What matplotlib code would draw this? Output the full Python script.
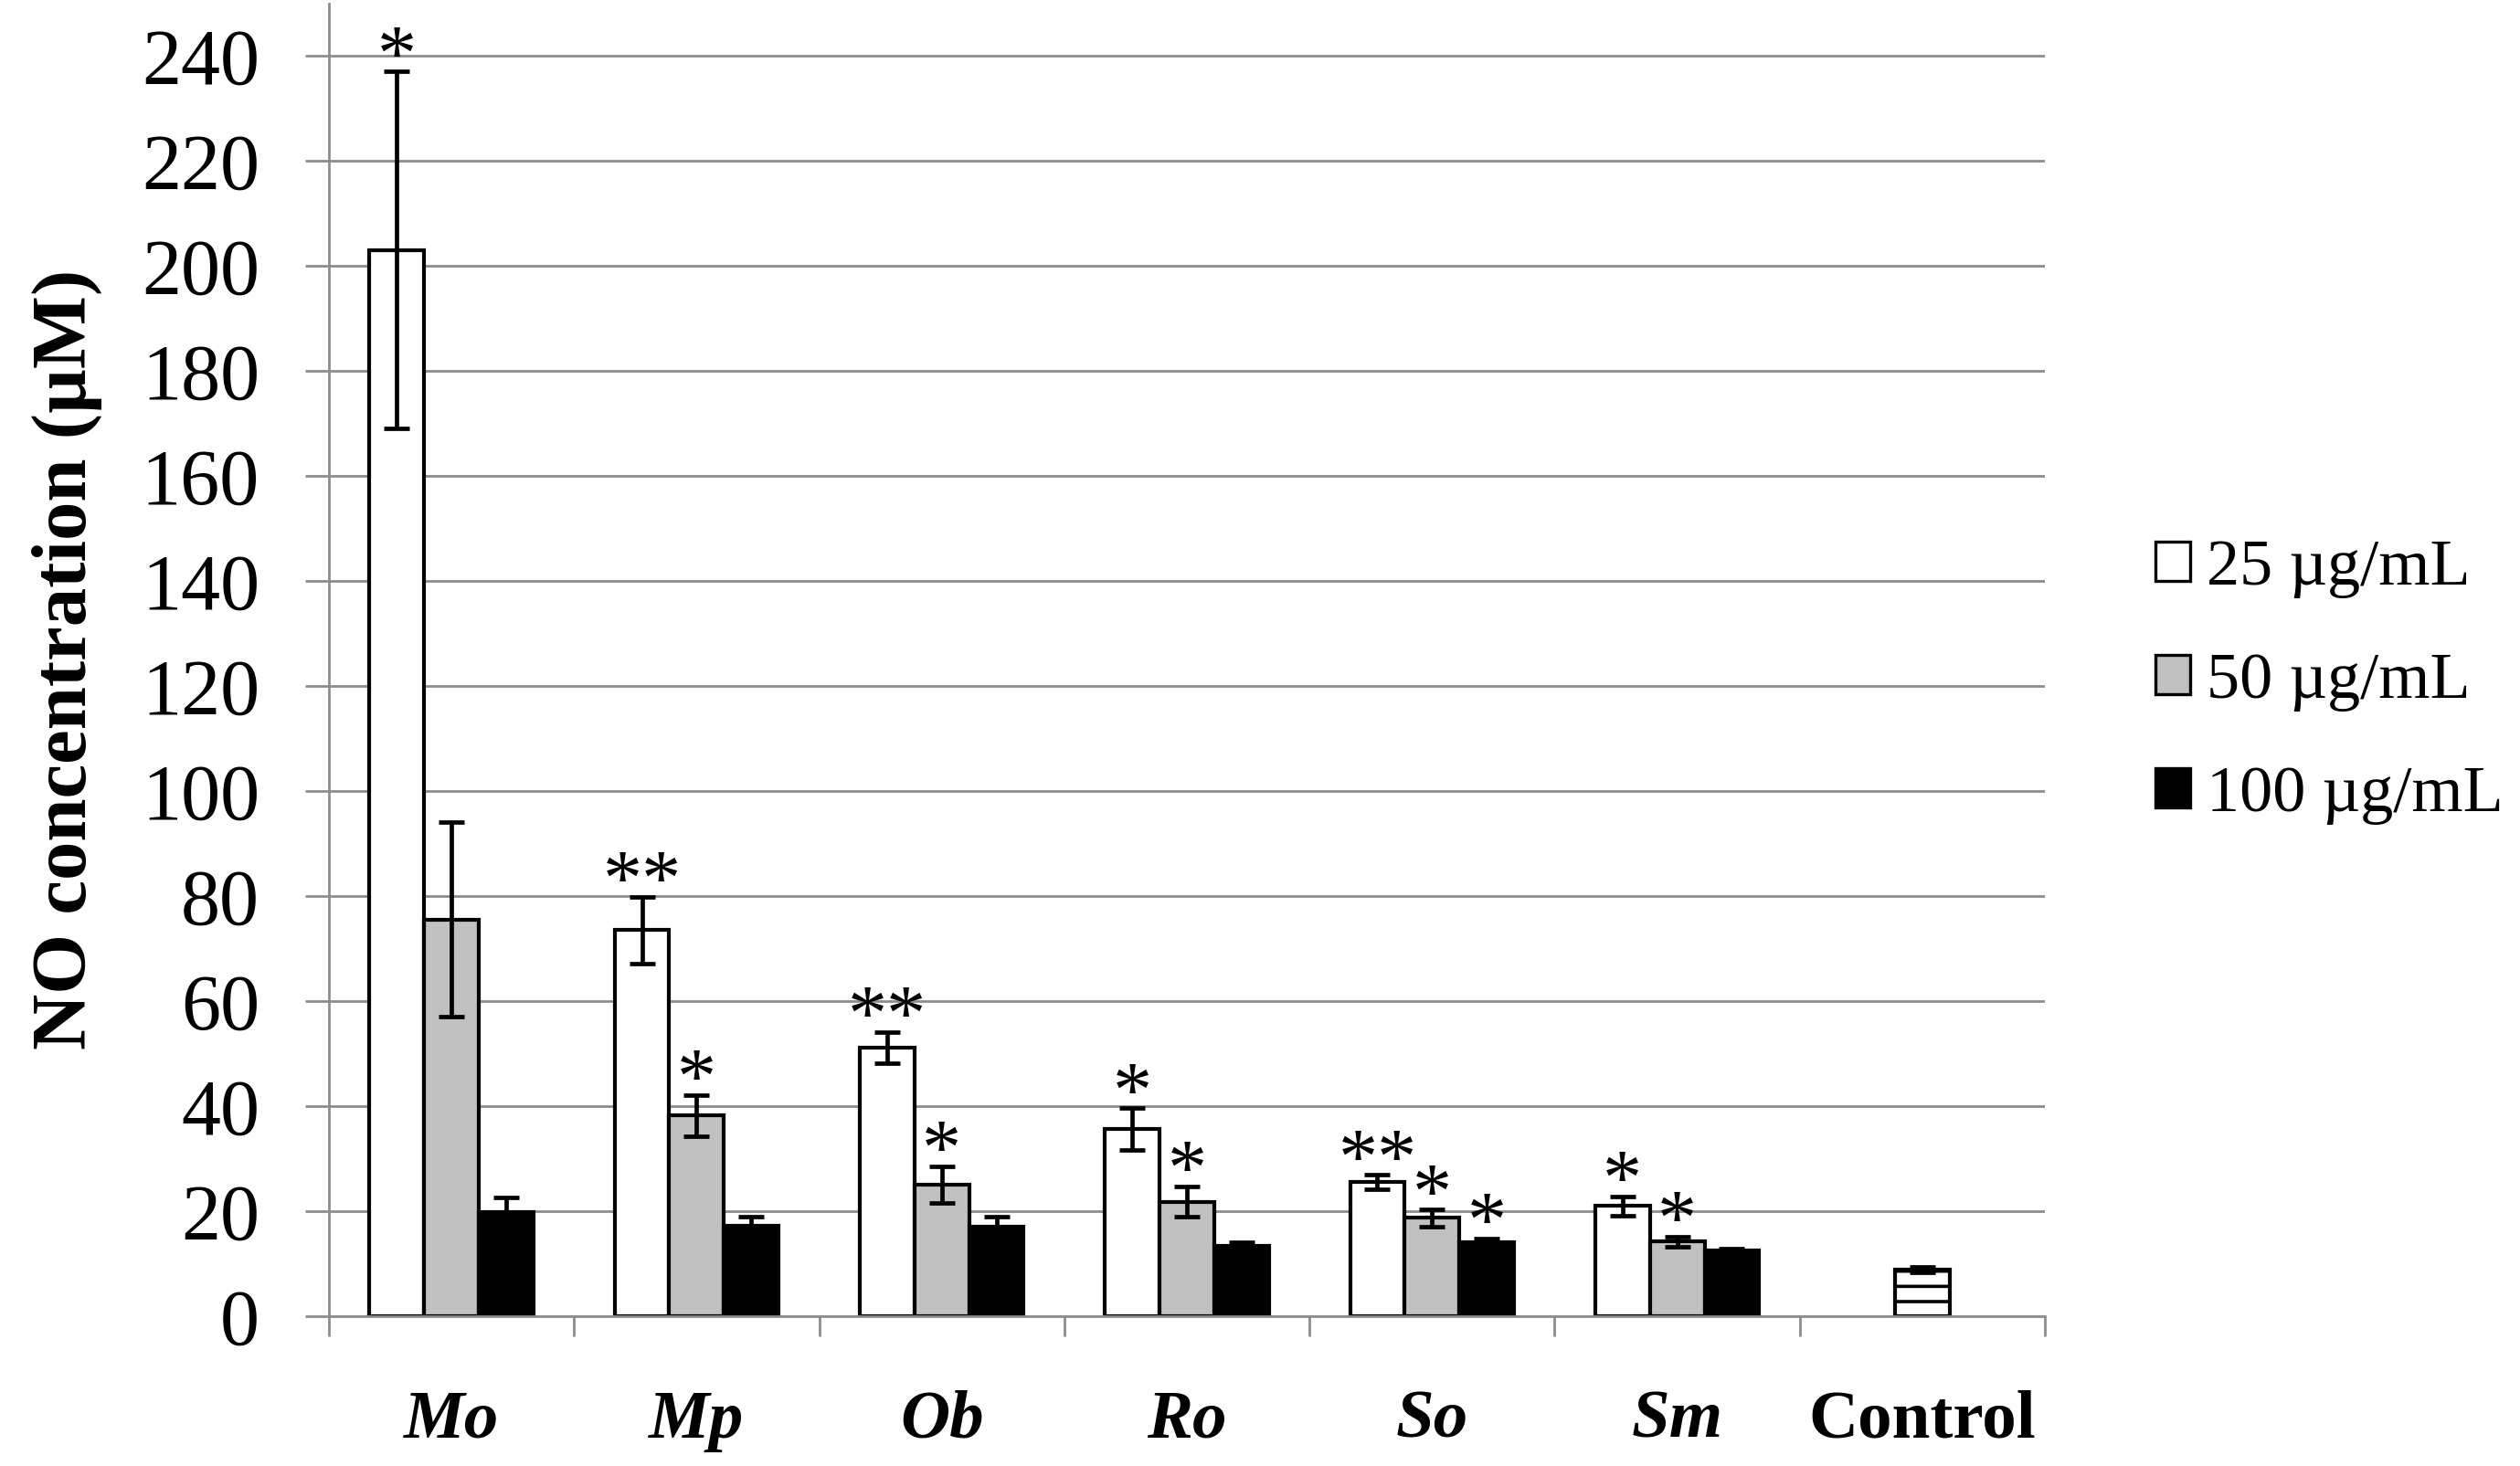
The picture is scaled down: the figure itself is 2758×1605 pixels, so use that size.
import numpy as np
import matplotlib
matplotlib.use('Agg')
import matplotlib.pyplot as plt
from matplotlib.patches import Patch

plt.rcParams['font.family'] = ['Liberation Serif', 'DejaVu Serif']
plt.rcParams['hatch.linewidth'] = 1.3

########################### Data ####################################

categories = ['Mo', 'Mp', 'Ob', 'Ro', 'So', 'Sm', 'Control']

no_25 = [203.0, 73.5, 51.1, 35.6, 25.5, 21.0]
err_25 = [34.0, 6.4, 3.0, 4.0, 1.4, 1.8]
no_50 = [75.5, 38.2, 25.0, 21.8, 18.7, 14.2]
err_50 = [18.5, 3.9, 3.5, 2.9, 1.6, 1.0]
no_100 = [19.8, 17.2, 17.0, 13.3, 14.0, 12.6]
err_100 = [2.8, 1.8, 2.0, 0.7, 0.8, 0.3]

control = 8.9
control_err = 0.5

stars_25 = ['*', '**', '**', '*', '**', '*']
stars_50 = ['', '*', '*', '*', '*', '*']
stars_100 = ['', '', '', '', '*', '']

labels = ['25 µg/mL', '50 µg/mL', '100 µg/mL']
colors = ['white', '#c0c0c0', 'black']

########################### Plot ####################################

grid_col = '#8c8c8c'
w = 0.223

fig = plt.figure(figsize=(13.79, 8.025), dpi=200)
ax = fig.add_axes([0.1305, 0.1022, 0.681, 0.8956])

x = np.arange(len(categories) - 1)
series = [(no_25, err_25, stars_25), (no_50, err_50, stars_50), (no_100, err_100, stars_100)]
for i, (vals, errs, stars) in enumerate(series):
    xs = x + (i - 1) * w
    ax.bar(xs, vals, width=w, color=colors[i], edgecolor='black', linewidth=1.5, zorder=2)
    ax.errorbar(xs, vals, yerr=errs, fmt='none', ecolor='black', elinewidth=1.7,
                capsize=5, capthick=1.7, zorder=3)
    for xx, v, e, s in zip(xs, vals, errs, stars):
        if s:
            ax.annotate(s, (xx, v + e), xytext=(0, -3), textcoords='offset points',
                        ha='center', va='baseline', fontsize=31, zorder=4)

# control bar
xc = len(categories) - 1
ax.bar(xc, control, width=w, color='white', edgecolor='black', linewidth=1.5,
       hatch='--', zorder=2)
ax.errorbar(xc, control, yerr=control_err, fmt='none', ecolor='black', elinewidth=1.7,
            capsize=5, capthick=1.7, zorder=3)

ax.set_xlim(-0.5, len(categories) - 0.5)
ax.set_ylim(0, 250)
ax.set_yticks(np.arange(0, 241, 20))
ax.yaxis.grid(True, color=grid_col, linewidth=1.0)
ax.set_axisbelow(True)

for side in ['top', 'right']:
    ax.spines[side].set_visible(False)
for side in ['left', 'bottom']:
    ax.spines[side].set_color(grid_col)
    ax.spines[side].set_linewidth(1.0)

ax.tick_params(axis='y', direction='out', length=9.3, width=1.0, color=grid_col,
               pad=18, labelsize=31)

ax.set_xticks(np.arange(-0.5, len(categories), 1))
ax.set_xticklabels([])
ax.tick_params(axis='x', which='major', direction='out', length=8, width=1.0, color=grid_col)
ax.set_xticks(np.arange(len(categories)), minor=True)
ax.set_xticklabels(categories, minor=True)
ax.tick_params(axis='x', which='minor', length=0, pad=29, labelsize=27)
for lab in ax.get_xticklabels(minor=True):
    lab.set_fontweight('bold')
    if lab.get_text() != 'Control':
        lab.set_fontstyle('italic')

ax.set_ylabel('NO concentration (µM)', fontsize=30.5, fontweight='bold')
ax.yaxis.set_label_coords(-0.132, 0.5)

handles = [Patch(facecolor=c, edgecolor='black', linewidth=1.2) for c in colors]
ax.legend(handles, labels, loc='center left', bbox_to_anchor=(0.8553, 0.5348),
          bbox_transform=fig.transFigure, frameon=False, fontsize=26,
          handlelength=0.53, handleheight=0.53, handletextpad=0.25,
          labelspacing=0.82, borderpad=0, borderaxespad=0)

plt.savefig('out.png', dpi=200)
